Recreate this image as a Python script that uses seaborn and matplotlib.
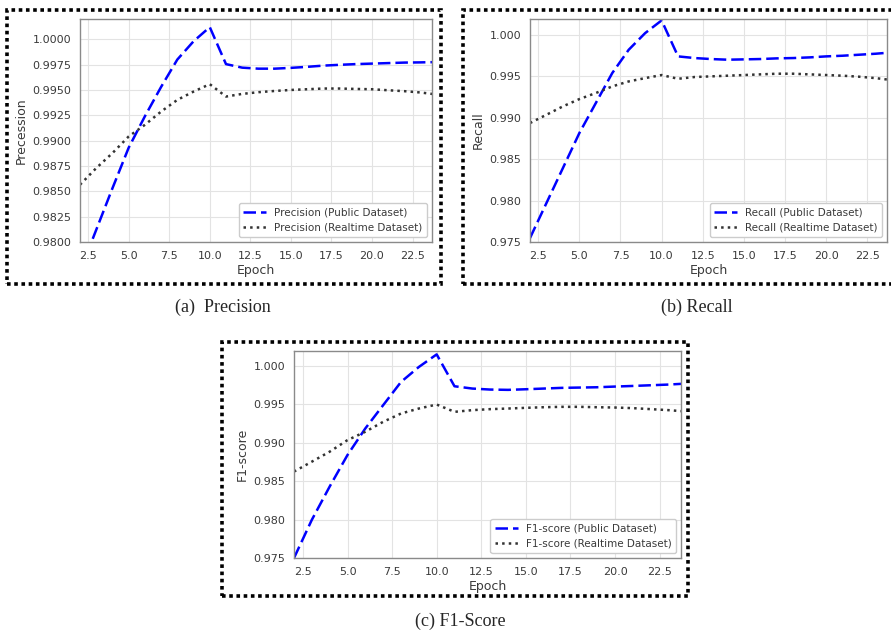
import numpy as np
import pandas as pd
import matplotlib
matplotlib.use("Agg")
import matplotlib.pyplot as plt
from matplotlib.patches import Rectangle
from matplotlib.ticker import MultipleLocator, FormatStrFormatter
import seaborn as sns

epochs = list(range(2, 25))

precision_public = [0.9771, 0.9812, 0.9853, 0.9893, 0.9924, 0.9953, 0.9980, 0.9998, 1.0012,
                    0.99755, 0.9972, 0.9971, 0.9971, 0.99718, 0.99728, 0.9974, 0.99748,
                    0.99755, 0.9976, 0.99765, 0.9977, 0.99772, 0.99775]
precision_realtime = [0.98565, 0.98729, 0.98877, 0.99041, 0.99156, 0.99287, 0.99402, 0.99484,
                      0.99557, 0.99435, 0.99461, 0.99478, 0.9949, 0.995, 0.99507, 0.99514,
                      0.99514, 0.9951, 0.99507, 0.99497, 0.99488, 0.99475, 0.99455]

recall_public = [0.97548, 0.9797, 0.98392, 0.98814, 0.99176, 0.99538, 0.99819, 1.0002, 1.00173,
                 0.99739, 0.99719, 0.99707, 0.99699, 0.99703, 0.99707, 0.99715, 0.99719,
                 0.99727, 0.99739, 0.99747, 0.99759, 0.99771, 0.99787]
recall_realtime = [0.98935, 0.99035, 0.99136, 0.99224, 0.99297, 0.99377, 0.99437, 0.99477,
                   0.99514, 0.99469, 0.9949, 0.99498, 0.99506, 0.99514, 0.99522, 0.9953,
                   0.9953, 0.99522, 0.99514, 0.99506, 0.99494, 0.99477, 0.99453]

f1_public = [0.9750, 0.97997, 0.9843, 0.98841, 0.99187, 0.9949, 0.99792, 0.99987, 1.00151,
             0.99736, 0.99706, 0.99693, 0.99689, 0.99697, 0.99706, 0.99715, 0.99719,
             0.99723, 0.99732, 0.9974, 0.99749, 0.99758, 0.99771]
f1_realtime = [0.98625, 0.98754, 0.98884, 0.99035, 0.99144, 0.99273, 0.99381, 0.99446,
               0.99498, 0.99403, 0.99425, 0.99438, 0.99446, 0.99455, 0.99463, 0.99468,
               0.99468, 0.99463, 0.99459, 0.99451, 0.99438, 0.99425, 0.99407]

W, H = 891, 632
TEXT = "#3a3a3a"

sns.set_style("white")
plt.rcParams["font.family"] = ["DejaVu Sans"]

fig = plt.figure(figsize=(W / 100, H / 100), dpi=100)


def px_rect(l, r, t, b):
    return [l / W, 1 - b / H, (r - l) / W, (b - t) / H]


def panel(rect, name, ylabel, public, realtime, ylim, ystep, yfmt):
    ax = fig.add_axes(px_rect(*rect))
    sns.lineplot(x=epochs, y=public, ax=ax, color="blue", dashes=(5, 2),
                 linewidth=1.8, label=f"{name} (Public Dataset)")
    sns.lineplot(x=epochs, y=realtime, ax=ax, color="#333333", linestyle=":",
                 linewidth=1.8, label=f"{name} (Realtime Dataset)")
    ax.lines[0].set_dashes((5, 2))
    ax.set_xlim(2, 23.7)
    ax.set_ylim(*ylim)
    ax.xaxis.set_major_locator(MultipleLocator(2.5))
    ax.xaxis.set_major_formatter(FormatStrFormatter("%.1f"))
    ax.yaxis.set_major_locator(MultipleLocator(ystep))
    ax.yaxis.set_major_formatter(FormatStrFormatter(yfmt))
    ax.grid(True, color="#e3e3e3", linewidth=0.8)
    ax.tick_params(labelsize=8, colors=TEXT, length=3, width=0.8)
    for s in ax.spines.values():
        s.set_color("#8a8a8a")
        s.set_linewidth(1.0)
    ax.set_xlabel("Epoch", fontsize=9, color=TEXT, labelpad=2)
    ax.set_ylabel(ylabel, fontsize=9, color=TEXT, labelpad=3)
    ax.legend(loc="lower right", fontsize=7.5, frameon=True, handlelength=2.2,
              borderpad=0.4, labelcolor=TEXT, edgecolor="#cccccc", framealpha=1)
    return ax


panel((80, 432, 19, 242), "Precision", "Precession", precision_public,
      precision_realtime, (0.98, 1.002), 0.0025, "%.4f")
panel((530, 887, 19, 242), "Recall", "Recall", recall_public,
      recall_realtime, (0.975, 1.0019), 0.005, "%.3f")
panel((294, 681, 351, 558), "F1-score", "F1-score", f1_public,
      f1_realtime, (0.975, 1.00195), 0.005, "%.3f")

# dotted frames around each panel
for l, r, t, b in [(7, 441, 10, 284), (463, 895, 10, 284), (222, 688, 342, 596)]:
    fig.add_artist(Rectangle((l / W, 1 - b / H), (r - l) / W, (b - t) / H,
                             transform=fig.transFigure, fill=False,
                             edgecolor="black", linestyle=(0, (1, 1)), linewidth=2.6))

serif = ["Liberation Serif", "DejaVu Serif"]
fig.text(223 / W, 1 - 307 / H, "(a)  Precision", ha="center", va="center",
         fontsize=13, family=serif)
fig.text(697 / W, 1 - 307 / H, "(b) Recall", ha="center", va="center",
         fontsize=13, family=serif)
fig.text(460 / W, 1 - 621 / H, "(c) F1-Score", ha="center", va="center",
         fontsize=13, family=serif)

fig.savefig("out.png", dpi=100)
